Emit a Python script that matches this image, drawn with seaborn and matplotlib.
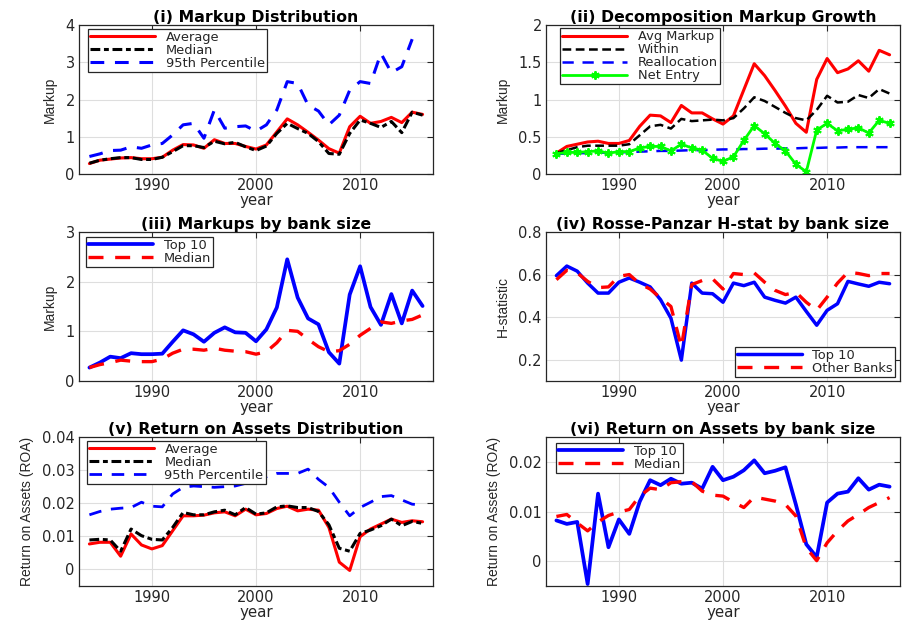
import numpy as np
import pandas as pd
import matplotlib
matplotlib.use('Agg')
import matplotlib.pyplot as plt
import matplotlib.ticker as ticker
import seaborn as sns

sns.set_theme(style='white')
plt.rcParams['font.family'] = ['DejaVu Sans']

years = list(range(1984, 2017))

# (i) markup distribution
avg_markup = [0.28, 0.37, 0.40, 0.43, 0.44, 0.41, 0.41, 0.45, 0.64, 0.79, 0.78, 0.69, 0.92,
              0.82, 0.82, 0.74, 0.67, 0.78, 1.13, 1.48, 1.32, 1.12, 0.91, 0.68, 0.56, 1.27,
              1.55, 1.36, 1.41, 1.52, 1.38, 1.66, 1.60]
med_markup = [0.29, 0.37, 0.41, 0.44, 0.44, 0.39, 0.39, 0.45, 0.60, 0.76, 0.76, 0.71, 0.88,
              0.81, 0.85, 0.73, 0.63, 0.75, 1.09, 1.36, 1.22, 1.09, 0.87, 0.55, 0.53, 1.09,
              1.45, 1.36, 1.25, 1.41, 1.11, 1.66, 1.58]
p95_markup = [0.47, 0.54, 0.63, 0.64, 0.73, 0.69, 0.78, 0.82, 1.05, 1.32, 1.36, 0.96, 1.72,
              1.23, 1.27, 1.29, 1.15, 1.32, 1.72, 2.48, 2.43, 1.85, 1.69, 1.32, 1.58, 2.25,
              2.48, 2.43, 3.24, 2.72, 2.88, 3.62, np.nan]

# (ii) decomposition
within = [0.28, 0.32, 0.36, 0.38, 0.38, 0.38, 0.38, 0.40, 0.52, 0.64, 0.66, 0.61, 0.74,
          0.71, 0.72, 0.73, 0.72, 0.75, 0.88, 1.03, 0.98, 0.90, 0.82, 0.75, 0.72, 0.86,
          1.05, 0.96, 0.97, 1.06, 1.02, 1.14, 1.08]
realloc = [0.27, 0.275, 0.28, 0.28, 0.285, 0.29, 0.29, 0.295, 0.30, 0.305, 0.31, 0.31, 0.315,
           0.32, 0.32, 0.325, 0.33, 0.33, 0.335, 0.335, 0.34, 0.34, 0.345, 0.345, 0.35, 0.35,
           0.355, 0.355, 0.36, 0.36, 0.36, 0.36, 0.36]
net_entry = [0.27, 0.29, 0.29, 0.30, 0.31, 0.28, 0.30, 0.30, 0.35, 0.37, 0.37, 0.31, 0.40,
             0.35, 0.32, 0.21, 0.17, 0.23, 0.45, 0.65, 0.54, 0.41, 0.31, 0.13, 0.03, 0.59,
             0.68, 0.58, 0.60, 0.62, 0.55, 0.72, 0.68]

# (iii) markups by bank size
top10_markup = [0.27, 0.37, 0.49, 0.46, 0.56, 0.54, 0.54, 0.55, 0.79, 1.02, 0.94, 0.79, 0.97,
                1.08, 0.98, 0.97, 0.80, 1.04, 1.48, 2.45, 1.68, 1.26, 1.14, 0.58, 0.35, 1.74,
                2.31, 1.49, 1.13, 1.75, 1.16, 1.82, 1.51]
size_med_markup = [0.27, 0.33, 0.37, 0.42, 0.40, 0.39, 0.39, 0.44, 0.56, 0.64, 0.64, 0.62, 0.66,
                   0.62, 0.60, 0.59, 0.54, 0.59, 0.77, 1.02, 1.00, 0.84, 0.69, 0.59, 0.61, 0.74,
                   0.92, 1.06, 1.19, 1.16, 1.21, 1.24, 1.33]

# (iv) H-statistic
h_top10 = [0.595, 0.64, 0.616, 0.56, 0.513, 0.513, 0.564, 0.584, 0.564, 0.542, 0.482, 0.395,
           0.198, 0.56, 0.513, 0.51, 0.47, 0.56, 0.548, 0.564, 0.494, 0.479, 0.466, 0.494,
           0.427, 0.362, 0.432, 0.463, 0.568, 0.556, 0.545, 0.564, 0.557]
h_other = [0.576, 0.62, 0.608, 0.568, 0.539, 0.542, 0.592, 0.60, 0.557, 0.532, 0.49, 0.45,
           0.26, 0.553, 0.572, 0.58, 0.532, 0.605, 0.60, 0.608, 0.564, 0.526, 0.506, 0.517,
           0.47, 0.432, 0.494, 0.56, 0.611, 0.605, 0.595, 0.605, 0.605]

# (v) ROA distribution
avg_roa = [0.0077, 0.0082, 0.0082, 0.0040, 0.0107, 0.0074, 0.0062, 0.0072, 0.0117, 0.0162,
           0.0162, 0.0164, 0.0171, 0.0174, 0.0162, 0.0182, 0.0165, 0.0169, 0.0184, 0.0191,
           0.0177, 0.0182, 0.0179, 0.0127, 0.0022, -0.0003, 0.0099, 0.0122, 0.0137, 0.0152,
           0.0142, 0.0147, 0.0144]
med_roa = [0.0089, 0.0091, 0.0089, 0.0055, 0.0122, 0.0102, 0.0091, 0.0089, 0.0127, 0.0172,
           0.0165, 0.0165, 0.0174, 0.0179, 0.0165, 0.0187, 0.0167, 0.0171, 0.0189, 0.0192,
           0.0187, 0.0187, 0.0175, 0.0135, 0.0064, 0.0055, 0.0109, 0.0119, 0.0132, 0.0152,
           0.0132, 0.0145, 0.0139]
p95_roa = [0.0165, 0.0175, 0.0182, 0.0185, 0.0187, 0.0203, 0.0191, 0.0189, 0.0228, 0.0248,
           0.0252, 0.0250, 0.0248, 0.0250, 0.0252, 0.0260, 0.0268, 0.0280, 0.0290, 0.0290,
           0.0290, 0.0303, 0.0272, 0.0248, 0.0203, 0.0162, 0.0187, 0.0203, 0.0220, 0.0223,
           0.0210, 0.0197, 0.0195]

# (vi) ROA by bank size
top10_roa = [0.0082, 0.0075, 0.0079, -0.0046, 0.0136, 0.0028, 0.0084, 0.0055, 0.0120, 0.0163,
             0.0153, 0.0166, 0.0156, 0.0158, 0.0146, 0.0190, 0.0163, 0.0170, 0.0183, 0.0203,
             0.0177, 0.0182, 0.0189, 0.0114, 0.0034, 0.0008, 0.0118, 0.0136, 0.0140, 0.0167,
             0.0144, 0.0154, 0.0150]
size_med_roa = [0.0090, 0.0094, 0.0077, 0.0061, 0.0079, 0.0092, 0.0099, 0.0104, 0.0131, 0.0147,
                0.0144, 0.0158, 0.0160, 0.0160, 0.0141, 0.0133, 0.0131, 0.0119, 0.0108, 0.0129,
                0.0125, 0.0121, 0.0114, 0.0091, 0.0027, 0.0001, 0.0037, 0.0061, 0.0081, 0.0094,
                0.0108, 0.0118, 0.0128]

RED, BLACK, BLUE, GREEN = '#ff0000', '#000000', '#0000ff', '#00ff00'
DASH = (0, (4.5, 3.5))
DASHDOT = (0, (3.2, 1.2, 1.6, 1.2))
AXCOL = '#262626'

fig = plt.figure(figsize=(9.05, 6.22), dpi=100)

W = 354 / 905
H = 149 / 622
lefts = [79 / 905, 546 / 905]
bottoms = [1 - 174 / 622, 1 - 381 / 622, 1 - 586 / 622]


def style_axes(ax, title, ylabel, ylim, yticks):
    ax.set_xlim(1983, 2017)
    ax.set_ylim(*ylim)
    ax.set_xticks([1990, 2000, 2010])
    ax.set_yticks(yticks)
    ax.yaxis.set_major_formatter(ticker.FuncFormatter(lambda v, p: f'{v:g}'))
    ax.grid(True, color='#dedede', lw=0.8)
    ax.set_axisbelow(True)
    for s in ax.spines.values():
        s.set_color(AXCOL)
        s.set_linewidth(0.9)
    ax.tick_params(direction='in', top=True, right=True, length=4, width=0.8,
                   color=AXCOL, labelcolor=AXCOL, labelsize=10.5, pad=3)
    ax.set_title(title, fontsize=11.3, fontweight='bold', color='black', pad=2.5)
    ax.set_xlabel('year', fontsize=10.8, color=AXCOL, labelpad=0)
    ax.set_ylabel(ylabel, fontsize=10, color=AXCOL, labelpad=6,
                  family=['Liberation Sans Narrow', 'DejaVu Sans Condensed', 'Liberation Sans'])


def add_legend(ax, loc, anchor):
    leg = ax.legend(loc=loc, bbox_to_anchor=anchor, borderaxespad=0, fontsize=9.4,
                    handlelength=5.0, handletextpad=0.8, labelspacing=0.0,
                    borderpad=0.15, fancybox=False, framealpha=1, edgecolor=AXCOL)
    leg.get_frame().set_linewidth(0.9)
    for t in leg.get_texts():
        t.set_color(AXCOL)


# (i)
ax = fig.add_axes([lefts[0], bottoms[0], W, H])
sns.lineplot(x=years, y=avg_markup, ax=ax, color=RED, lw=2.2, label='Average')
sns.lineplot(x=years, y=med_markup, ax=ax, color=BLACK, lw=2.2, linestyle=DASHDOT, label='Median')
sns.lineplot(x=years, y=p95_markup, ax=ax, color=BLUE, lw=2.2, linestyle=DASH, label='95th Percentile')
style_axes(ax, '(i) Markup Distribution', 'Markup', (0, 4), [0, 1, 2, 3, 4])
add_legend(ax, 'upper left', (0.025, 0.973))

# (ii)
ax = fig.add_axes([lefts[1], bottoms[0], W, H])
sns.lineplot(x=years, y=avg_markup, ax=ax, color=RED, lw=2.2, label='Avg Markup')
sns.lineplot(x=years, y=within, ax=ax, color=BLACK, lw=1.8, linestyle=(0, (3.5, 1.8)), label='Within')
sns.lineplot(x=years, y=realloc, ax=ax, color=BLUE, lw=1.8, linestyle=DASH, label='Reallocation')
sns.lineplot(x=years, y=net_entry, ax=ax, color=GREEN, lw=2.0, marker=(6, 2, 0), markersize=6,
             markeredgewidth=1.4, markeredgecolor=GREEN, label='Net Entry')
style_axes(ax, '(ii) Decomposition Markup Growth', 'Markup', (0, 2), [0, 0.5, 1, 1.5, 2])
add_legend(ax, 'upper left', (0.04, 0.978))

# (iii)
ax = fig.add_axes([lefts[0], bottoms[1], W, H])
sns.lineplot(x=years, y=top10_markup, ax=ax, color=BLUE, lw=2.7, label='Top 10')
sns.lineplot(x=years, y=size_med_markup, ax=ax, color=RED, lw=2.4, linestyle=DASH, label='Median')
style_axes(ax, '(iii) Markups by bank size', 'Markup', (0, 3), [0, 1, 2, 3])
add_legend(ax, 'upper left', (0.02, 0.966))

# (iv)
ax = fig.add_axes([lefts[1], bottoms[1], W, H])
sns.lineplot(x=years, y=h_top10, ax=ax, color=BLUE, lw=2.5, label='Top 10')
sns.lineplot(x=years, y=h_other, ax=ax, color=RED, lw=2.4, linestyle=DASH, label='Other Banks')
style_axes(ax, '(iv) Rosse-Panzar H-stat by bank size', 'H-statistic', (0.1, 0.8),
           [0.2, 0.4, 0.6, 0.8])
add_legend(ax, 'lower right', (0.986, 0.029))

# (v)
ax = fig.add_axes([lefts[0], bottoms[2], W, H])
sns.lineplot(x=years, y=avg_roa, ax=ax, color=RED, lw=2.2, label='Average')
sns.lineplot(x=years, y=med_roa, ax=ax, color=BLACK, lw=2.2, linestyle=DASHDOT, label='Median')
sns.lineplot(x=years, y=p95_roa, ax=ax, color=BLUE, lw=2.0, linestyle=DASH, label='95th Percentile')
style_axes(ax, '(v) Return on Assets Distribution', 'Return on Assets (ROA)', (-0.005, 0.04),
           [0, 0.01, 0.02, 0.03, 0.04])
add_legend(ax, 'upper left', (0.022, 0.975))

# (vi)
ax = fig.add_axes([lefts[1], bottoms[2], W, H])
sns.lineplot(x=years, y=top10_roa, ax=ax, color=BLUE, lw=2.7, label='Top 10')
sns.lineplot(x=years, y=size_med_roa, ax=ax, color=RED, lw=2.4, linestyle=DASH, label='Median')
style_axes(ax, '(vi) Return on Assets by bank size', 'Return on Assets (ROA)', (-0.005, 0.025),
           [0, 0.01, 0.02])
add_legend(ax, 'upper left', (0.028, 0.96))

fig.savefig('out.png', dpi=100)
